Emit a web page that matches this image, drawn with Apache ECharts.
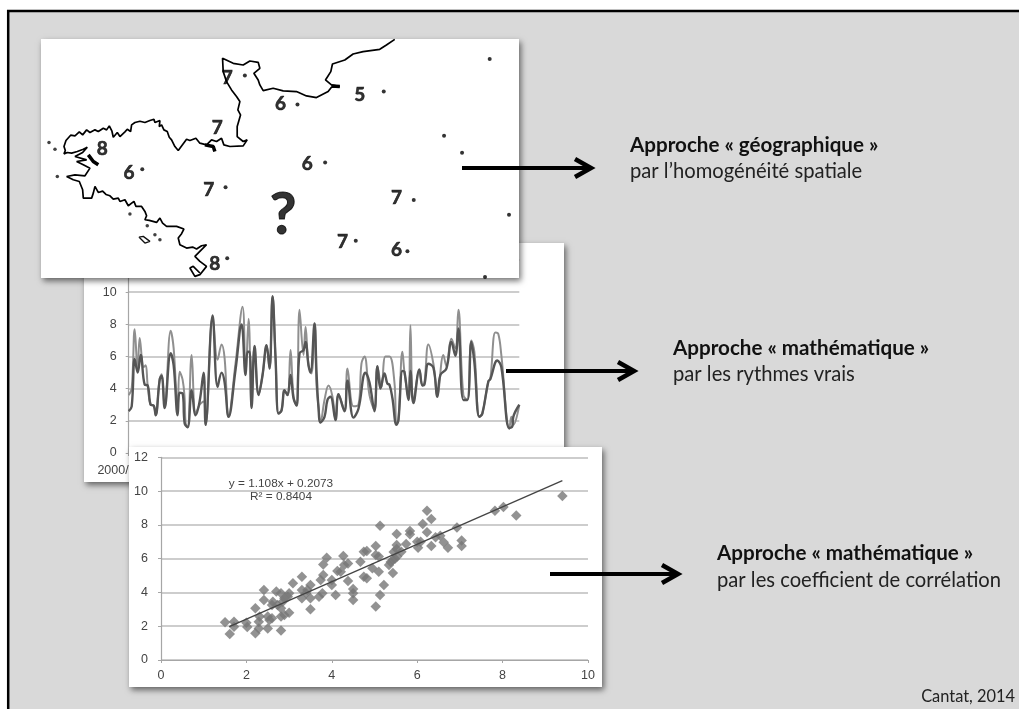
<!DOCTYPE html>
<html><head><meta charset="utf-8">
<style>html,body{margin:0;padding:0;background:#fff}#c{width:1019px;height:709px;filter:blur(0.45px)}</style>
<script src="https://cdn.jsdelivr.net/npm/echarts@6/dist/echarts.min.js"></script>
</head><body><div id="c"></div>
<script>
// ---- time series: [sample, value] ----
const seriesDark = [[0,2.6],[3,2.9],[6,5.85],[9,5.0],[12,6.1],[16,4.25],[19,4.2],[22,3.0],[25,2.95],[27,2.35],[31,4.55],[33,4.8],[36,2.8],[42,6.2],[45,5.45],[49,2.35],[51,3.75],[54,3.7],[56,1.85],[59,1.6],[63,3.9],[67,2.35],[71,3.2],[75,5.0],[77,1.75],[84,8.55],[89,4.1],[93,5.0],[96,4.4],[100,2.25],[107,5.2],[113,8.0],[117,4.85],[119,6.3],[121,6.3],[123,2.8],[126,6.65],[130,3.6],[134,4.85],[138,6.7],[141,5.25],[144,9.75],[147,5.9],[150,2.45],[153,2.65],[156,3.9],[159,3.6],[162,4.85],[165,3.4],[168,2.95],[171,6.2],[175,6.4],[177,6.9],[180,5.45],[182,5.0],[186,8.05],[188,5.05],[190,2.8],[192,1.9],[196,2.25],[199,3.3],[202,3.5],[207,2.05],[210,3.65],[216,2.6],[219,4.5],[225,2.2],[230,2.75],[237,5.0],[241,4.4],[246,2.6],[249,5.4],[252,4.0],[256,4.95],[259,4.3],[261,4.25],[264,3.4],[268,1.75],[270,2.05],[274,5.1],[276,5.05],[280,3.3],[282,5.1],[285,3.1],[291,5.2],[294,4.2],[296,4.25],[300,5.55],[305,5.3],[309,3.5],[312,4.85],[318,5.25],[323,6.9],[327,6.05],[330,7.75],[335,3.3],[339,3.3],[343,6.9],[346,5.65],[351,2.25],[354,2.45],[360,4.45],[362,4.6],[369,5.75],[373,5.35],[381,1.55],[384,1.65],[385,2.25],[391,3.0]];
const seriesLight = [[0,3.6],[3,4.0],[6,7.7],[9,5.05],[11,7.15],[15,5.35],[17,5.45],[19,4.2],[22,3.0],[25,2.95],[27,2.35],[31,4.6],[33,4.9],[36,2.8],[42,7.6],[45,6.5],[49,2.7],[51,5.05],[54,4.55],[56,3.4],[57,1.85],[59,1.6],[63,6.1],[67,2.45],[71,3.0],[75,3.2],[77,1.75],[84,8.45],[89,5.8],[93,6.75],[96,5.9],[100,2.25],[107,5.6],[114,9.1],[117,4.85],[120,8.35],[123,2.8],[126,6.65],[130,3.6],[134,4.85],[138,6.7],[141,5.25],[144,9.75],[147,5.9],[150,2.45],[153,2.65],[156,3.9],[159,3.6],[162,6.4],[165,3.5],[168,2.95],[171,8.9],[175,6.1],[177,7.85],[180,5.45],[183,4.95],[186,8.05],[188,4.2],[190,2.9],[192,1.9],[196,3.3],[200,4.2],[204,3.5],[207,2.05],[210,3.65],[216,2.65],[219,5.25],[225,2.9],[230,3.0],[233,5.55],[236,6.0],[241,3.6],[246,2.7],[249,5.4],[253,4.1],[257,6.0],[261,6.0],[266,4.4],[268,1.85],[270,2.05],[274,6.3],[276,5.05],[280,3.4],[282,7.95],[285,3.2],[291,5.15],[294,4.2],[296,4.35],[300,6.75],[305,5.55],[309,3.6],[315,6.1],[318,5.4],[323,7.1],[327,6.5],[330,8.9],[335,3.6],[339,3.3],[343,7.0],[346,6.3],[351,2.25],[354,2.45],[360,4.45],[362,4.6],[367,7.5],[370,7.4],[373,6.1],[381,1.5],[383,2.25],[385,1.75],[391,3.0]];
const lineYTicks = ['0','2','4','6','8','10'];
const lineStartLabel = '2000/01/01';

// ---- correlation cloud: [x, y] ----
const scatterPoints = [[1.5,2.23],[1.61,1.54],[1.71,2.27],[1.71,1.97],[2.0,2.21],[2.02,1.95],[2.21,3.06],[2.21,1.58],[2.29,1.87],[2.29,2.27],[2.31,2.57],[2.5,1.87],[2.41,4.14],[2.41,3.55],[2.5,2.57],[2.6,2.47],[2.54,2.37],[2.62,3.45],[2.6,3.26],[2.7,4.05],[2.81,1.74],[2.81,2.57],[2.89,2.66],[3.0,2.8],[2.81,3.06],[2.73,3.26],[2.85,3.45],[2.81,3.95],[2.89,3.65],[3.0,3.95],[2.97,3.75],[3.09,4.54],[3.3,4.93],[3.3,4.14],[3.3,3.65],[3.4,3.95],[3.5,4.44],[3.5,3.65],[3.5,3.0],[3.43,4.14],[3.7,3.75],[3.78,3.95],[3.74,4.74],[3.8,5.03],[3.8,5.66],[3.88,6.06],[4.0,4.44],[4.0,4.74],[4.09,3.85],[4.13,5.27],[4.21,5.23],[4.27,6.16],[4.29,5.62],[4.38,5.72],[4.38,4.68],[4.5,4.2],[4.5,3.95],[4.5,3.55],[4.67,5.82],[4.75,6.41],[4.75,4.93],[4.82,6.45],[4.82,4.84],[5.03,6.75],[5.03,6.22],[5.1,6.12],[4.95,5.43],[5.1,5.23],[5.22,4.44],[5.13,3.85],[5.03,3.16],[5.13,7.95],[5.34,5.62],[5.43,5.15],[5.43,5.92],[5.53,6.12],[5.52,7.46],[5.52,6.81],[5.52,6.57],[5.63,6.41],[5.74,6.87],[5.83,7.64],[5.83,7.44],[6.0,7.0],[6.02,6.65],[6.08,7.0],[6.13,8.05],[6.23,8.84],[6.33,8.35],[6.23,7.56],[6.33,6.75],[6.43,7.26],[6.54,7.36],[6.62,6.97],[6.72,6.65],[6.93,7.84],[7.04,7.07],[7.04,6.75],[7.82,8.84],[8.02,9.06],[8.32,8.55],[9.4,9.71],[5.38,5.8],[5.48,6.0],[5.45,6.4]];
const trendLine = [[1.6,1.98],[9.4,10.62]];
const equationLines = ['y = 1.108x + 0.2073','R² = 0.8404'];

// ---- map: coast in sheet units ----
const coastNorth = [[1095,28],[1070,45],[1050,58],[1000,65],[970,72],[945,90],[908,102],[903,125],[887,150],[905,165],[930,170],[905,172],[895,185],[860,203],[830,198],[800,185],[760,183],[730,175],[700,182],[690,165],[685,150],[672,130],[690,115],[685,97],[660,93],[640,105],[610,100],[578,85],[580,125],[590,155],[605,180],[620,200],[630,215],[624,240],[632,255],[622,290],[622,320],[640,335],[652,330],[640,348],[600,350],[582,345],[575,325],[560,335],[545,330],[530,345],[510,340],[498,325],[480,332],[470,328],[445,362],[435,350],[425,330],[418,322],[412,305],[402,300],[395,285],[388,290],[390,272],[375,278],[372,268],[360,272],[345,278],[330,274],[315,278],[305,285],[302,305],[292,298],[285,306],[270,320],[262,308],[250,322],[246,304],[238,288],[230,300],[220,295],[205,305],[195,300],[180,308],[170,300],[158,315],[148,306],[135,318],[122,316],[108,332],[102,350],[106,362],[102,372],[112,368],[125,370],[142,365],[160,358],[172,352],[158,368],[135,380],[170,390],[140,395],[160,405],[180,415],[165,438],[135,435],[110,440],[130,450],[148,455],[158,480],[160,505],[185,505],[190,490],[195,470],[205,488],[218,484],[228,494],[240,498],[250,508],[265,505],[270,515],[285,510],[295,528],[312,515],[318,530],[335,530],[345,545],[350,558],[345,570],[358,572],[380,578],[390,565],[398,580],[410,590],[440,590],[462,598],[455,612],[445,625],[450,645],[470,655],[488,652],[500,658],[515,648],[530,645],[495,680],[510,695],[530,710],[510,735],[495,740],[480,715],[490,710],[510,730]];
const coastIsland = [[327,622],[345,640],[360,635],[340,620],[327,622]];
const coastBlobs = [[[175,375],[190,395],[205,405]],[[525,345],[550,350],[555,365]],[[905,168],[930,170]]];
const islets = [[57,338],[75,358],[82,440],[300,553],[375,615],[390,630],[352,588]];
const stations = [[645,137],[803,224],[1062,185],[1380,87],[1243,318],[1297,369],[1438,555],[1152,511],[1133,665],[978,633],[592,686],[587,472],[337,418],[886,398],[1366,742]];
const stationValues = [[592,143,'7'],[752,223,'6'],[990,195,'5'],[1100,503,'7'],[1100,660,'6'],[938,635,'7'],[555,702,'8'],[537,480,'7'],[297,428,'6'],[832,403,'6'],[562,295,'7'],[217,357,'8']];
const unknownSite = [[760,558,'?']];

// ---- right-hand captions ----
const captions = [
  ['Approche « géographique »','par l’homogénéité spatiale'],
  ['Approche « mathématique »','par les rythmes vrais'],
  ['Approche « mathématique »','par les coefficient de corrélation']
];
const credit = 'Cantat, 2014';

const FONT = 'Lato, "Open Sans", sans-serif';
const TICK = '"Liberation Sans", Arial, sans-serif';
const shadow = {shadowBlur:6, shadowOffsetX:2, shadowOffsetY:3, shadowColor:'rgba(0,0,0,.55)'};
const panel = (x,y,w,h,z)=>({type:'rect',z,silent:true,shape:{x,y,width:w,height:h},style:Object.assign({fill:'#fff'},shadow)});
const arrow = (x1,x2,y)=>[
  {type:'line',z:30,silent:true,shape:{x1,y1:y,x2:x2-5,y2:y},style:{stroke:'#000',lineWidth:4}},
  {type:'polyline',z:30,silent:true,shape:{points:[[x2-21,y-9],[x2-5,y],[x2-21,y+9]]},style:{stroke:'#000',fill:null,lineWidth:4.5}}
];
const caption = (i,x,y1,y2)=>[
  {type:'text',z:30,silent:true,x,y:y1,style:{text:captions[i][0],font:'bold 20.6px '+FONT,fill:'#111',textVerticalAlign:'middle'}},
  {type:'text',z:30,silent:true,x,y:y2,style:{text:captions[i][1],font:'20.2px '+FONT,fill:'#222',textVerticalAlign:'middle'}}
];

const graphic = [
  {type:'rect',z:0,silent:true,shape:{x:8.2,y:11,width:1100,height:800},style:{fill:'#d9d9d9',stroke:'#000',lineWidth:2.5}},
  panel(84,243,480,239,1),
  panel(129,447,473,240,10),
  panel(41,39,478,239,10),
  ...arrow(462,596,168),...arrow(506,639,371),...arrow(550,683,574),
  ...caption(0,630,145,171),...caption(1,673,348,374),...caption(2,717,553,580),
  {type:'text',z:30,silent:true,x:1015,y:697,style:{text:credit,font:'16.4px '+FONT,fill:'#222',textAlign:'right',textVerticalAlign:'middle'}},
  {type:'text',z:13,silent:true,x:281,y:484,style:{text:equationLines[0],font:'11.8px '+TICK,fill:'#444',textAlign:'center',textVerticalAlign:'middle'}},
  {type:'text',z:13,silent:true,x:281,y:497,style:{text:equationLines[1],font:'11.8px '+TICK,fill:'#444',textAlign:'center',textVerticalAlign:'middle'}}
];

const grayLine = {lineStyle:{color:'#a6a6a6',width:1.2}};
const option = {
  animation:false,
  backgroundColor:'#fff',
  graphic:{elements:graphic},
  grid:[
    {left:128.7,top:260,width:390.6,height:193},
    {left:161,top:457.3,width:427,height:202.7},
    {left:41,top:39,width:478,height:239}
  ],
  xAxis:[
    {type:'value',gridIndex:0,z:2,min:0,max:391,interval:391,splitLine:{show:false},axisLine:grayLine,axisTick:{show:true,length:3,lineStyle:{color:'#a6a6a6'}},
     axisLabel:{color:'#444',fontFamily:TICK,fontSize:12.5,margin:11,formatter:v=>v===0?lineStartLabel:''}},
    {type:'value',gridIndex:1,z:11,min:0,max:10,interval:2,splitLine:{show:false},axisLine:{onZero:false,lineStyle:{color:'#a6a6a6',width:1.2}},axisTick:{show:true,length:3,lineStyle:{color:'#a6a6a6'}},
     axisLabel:{color:'#444',fontFamily:TICK,fontSize:12.5,margin:9}},
    {type:'value',gridIndex:2,min:33,max:1468,show:false}
  ],
  yAxis:[
    {type:'value',gridIndex:0,z:2,min:0,max:12,interval:2,axisLine:Object.assign({show:true},grayLine),axisTick:{show:true,length:3,lineStyle:{color:'#a6a6a6'}},
     splitLine:{lineStyle:{color:'#bdbdbd',width:1.5}},
     axisLabel:{color:'#444',fontFamily:TICK,fontSize:12.5,margin:12,formatter:v=>lineYTicks[v/2]||''}},
    {type:'value',gridIndex:1,z:11,min:0,max:12,interval:2,axisLine:Object.assign({show:true},grayLine),axisTick:{show:true,length:3,lineStyle:{color:'#a6a6a6'}},
     splitLine:{lineStyle:{color:'#bdbdbd',width:1.5}},
     axisLabel:{color:'#444',fontFamily:TICK,fontSize:12.5,margin:13}},
    {type:'value',gridIndex:2,min:27,max:745,inverse:true,show:false}
  ],
  series:[
    {type:'line',name:'light',xAxisIndex:0,yAxisIndex:0,z:3,data:seriesLight,showSymbol:false,smooth:0.4,silent:true,lineStyle:{color:'#8f8f8f',width:2}},
    {type:'line',name:'dark',xAxisIndex:0,yAxisIndex:0,z:4,data:seriesDark,showSymbol:false,smooth:0.4,silent:true,lineStyle:{color:'#555',width:2.4}},
    {type:'scatter',name:'points',xAxisIndex:1,yAxisIndex:1,z:12,data:scatterPoints,symbol:'diamond',symbolSize:10.5,silent:true,itemStyle:{color:'#777'}},
    {type:'line',name:'trend',xAxisIndex:1,yAxisIndex:1,z:13,data:trendLine,showSymbol:false,silent:true,lineStyle:{color:'#444',width:1.3}},
    {type:'line',name:'coast',xAxisIndex:2,yAxisIndex:2,z:12,data:coastNorth,showSymbol:false,silent:true,lineStyle:{color:'#000',width:1.7}},
    {type:'line',name:'island',xAxisIndex:2,yAxisIndex:2,z:12,data:coastIsland,showSymbol:false,silent:true,lineStyle:{color:'#111',width:1.3}},
    ...coastBlobs.map(b=>({type:'line',xAxisIndex:2,yAxisIndex:2,z:12,data:b,showSymbol:false,silent:true,lineStyle:{color:'#000',width:3.5}})),
    {type:'scatter',name:'islets',xAxisIndex:2,yAxisIndex:2,z:12,data:islets,symbolSize:3.5,silent:true,itemStyle:{color:'#111'}},
    {type:'scatter',name:'stations',xAxisIndex:2,yAxisIndex:2,z:12,data:stations,symbolSize:4,silent:true,itemStyle:{color:'#000'}},
    {type:'scatter',name:'values',xAxisIndex:2,yAxisIndex:2,z:13,data:stationValues,symbolSize:0,silent:true,
     label:{show:true,position:'inside',formatter:p=>p.value[2],fontFamily:FONT,fontWeight:'bold',fontSize:19,color:'#000',textBorderColor:'#000',textBorderWidth:0.6}},
    {type:'scatter',name:'unknown',xAxisIndex:2,yAxisIndex:2,z:13,data:unknownSite,symbolSize:0,silent:true,
     label:{show:true,position:'inside',formatter:p=>p.value[2],fontFamily:FONT,fontWeight:'bold',fontSize:58,color:'#000',textBorderColor:'#000',textBorderWidth:1}}
  ]
};
const chart = echarts.init(document.getElementById('c'),null,{renderer:'canvas'});
chart.setOption(option);
</script></body></html>
